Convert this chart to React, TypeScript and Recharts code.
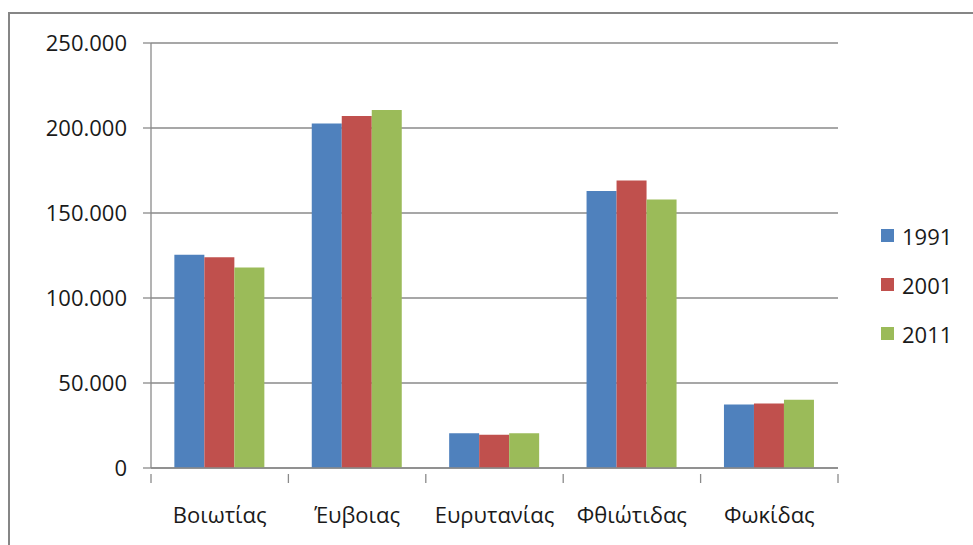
import React from 'react';
import { BarChart, Bar, XAxis, YAxis, CartesianGrid, Legend } from 'recharts';

const categories = ['Βοιωτίας', 'Έυβοιας', 'Ευρυτανίας', 'Φθιώτιδας', 'Φωκίδας'];
const values1991 = [125500, 202600, 20400, 162900, 37300];
const values2001 = [123900, 207100, 19600, 169100, 37900];
const values2011 = [117900, 210600, 20400, 157900, 40200];
const yTicks = [0, 50000, 100000, 150000, 200000, 250000];
const seriesNames = ['1991', '2001', '2011'];
const colors = ['#4F81BD', '#C0504D', '#9BBB59'];

const data = categories.map((c, i) => ({
  name: c,
  s1991: values1991[i],
  s2001: values2001[i],
  s2011: values2011[i],
}));

const FONT = '"Open Sans", "Noto Sans", sans-serif';
const GRID = '#8a8a8a';
const TEXT = '#1a1a1a';
const X_MARGIN = 33;

const fmt = (v: number) => String(v).replace(/\B(?=(\d{3})+(?!\d))/g, '.');

const XTick = (props: any) => {
  const { x, y, payload, index, visibleTicksCount, width } = props;
  const half = payload && payload.offset ? payload.offset : width / visibleTicksCount / 2;
  const axisY = y - X_MARGIN;
  return (
    <g>
      <line x1={x - half} x2={x - half} y1={axisY} y2={axisY + 9} stroke={GRID} strokeWidth={1.3} />
      {index === visibleTicksCount - 1 && (
        <line x1={x + half} x2={x + half} y1={axisY} y2={axisY + 9} stroke={GRID} strokeWidth={1.3} />
      )}
      <text x={x} y={y} dy="0.71em" textAnchor="middle" fill={TEXT} fontSize={22} fontFamily={FONT}>
        {payload.value}
      </text>
    </g>
  );
};

const LegendContent = () => (
  <div style={{ fontFamily: FONT, fontSize: 22, color: TEXT }}>
    {seriesNames.map((n, i) => (
      <div key={n} style={{ display: 'flex', alignItems: 'center', height: 49 }}>
        <div style={{ width: 13, height: 13, background: colors[i], marginRight: 8 }} />
        <span>{n}</span>
      </div>
    ))}
  </div>
);

export default function App() {
  return (
    <div style={{ position: 'absolute', left: 0, top: 0, width: 973, height: 545, overflow: 'hidden', background: '#fff' }}>
      <div
        style={{
          position: 'absolute',
          left: 8,
          top: 12,
          width: 1100,
          height: 700,
          border: '2px solid #868686',
          boxSizing: 'border-box',
        }}
      />
      <div style={{ position: 'absolute', left: 0, top: 0 }}>
        <BarChart
          width={973}
          height={545}
          data={data}
          margin={{ top: 43, right: 135, bottom: 17, left: 0 }}
          barCategoryGap="17%"
          barGap={0}
        >
          <CartesianGrid vertical={false} stroke={GRID} strokeWidth={1.3} />
          <XAxis
            dataKey="name"
            height={60}
            tickLine={false}
            axisLine={{ stroke: GRID, strokeWidth: 1.3 }}
            tick={<XTick />}
            tickMargin={X_MARGIN}
            interval={0}
          />
          <YAxis
            width={151}
            domain={[0, 250000]}
            ticks={yTicks}
            tickFormatter={fmt}
            tickSize={8}
            tickMargin={16}
            tickLine={{ stroke: GRID, strokeWidth: 1.3 }}
            axisLine={{ stroke: GRID, strokeWidth: 1.3 }}
            tick={{ fill: TEXT, fontSize: 22, fontFamily: FONT }}
            interval={0}
          />
          <Legend
            layout="horizontal"
            align="center"
            verticalAlign="middle"
            content={<LegendContent />}
            wrapperStyle={{ left: 881, top: 211, width: 90 }}
          />
          <Bar dataKey="s1991" name="1991" fill={colors[0]} isAnimationActive={false} />
          <Bar dataKey="s2001" name="2001" fill={colors[1]} isAnimationActive={false} />
          <Bar dataKey="s2011" name="2011" fill={colors[2]} isAnimationActive={false} />
        </BarChart>
      </div>
    </div>
  );
}
